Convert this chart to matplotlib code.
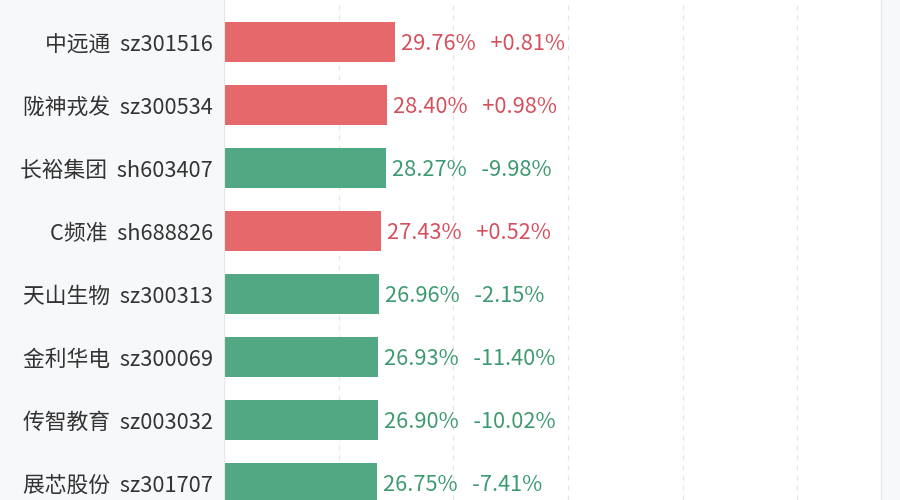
import matplotlib
matplotlib.use('Agg')
import matplotlib.pyplot as plt

plt.rcParams['font.family'] = ['Noto Sans CJK SC', 'DejaVu Sans']

''' Data read from the picture '''
names = ['中远通', '陇神戎发', '长裕集团', 'C频准', '天山生物', '金利华电', '传智教育', '展芯股份']
codes = ['sz301516', 'sz300534', 'sh603407', 'sh688826', 'sz300313', 'sz300069', 'sz003032', 'sz301707']
turnover = [29.76, 28.40, 28.27, 27.43, 26.96, 26.93, 26.90, 26.75]
change = [0.81, 0.98, -9.98, 0.52, -2.15, -11.40, -10.02, -7.41]

RED, GREEN = '#e5686a', '#52a882'
RED_T, GREEN_T = '#d5505c', '#3d9a70'

fig = plt.figure(figsize=(9, 5), dpi=100, facecolor='#f7f8fa')
ax = fig.add_axes([224/900, 0, 657/900, 1])
ax.set_facecolor('white')

ypos = list(range(len(names)))
cols = [RED if c > 0 else GREEN for c in change]
ax.barh(ypos, turnover, height=0.65, color=cols, zorder=2)

for y, v, c in zip(ypos, turnover, change):
	tc = RED_T if c > 0 else GREEN_T
	ax.annotate('%.2f%%   %+.2f%%' % (v, c), xy=(v, y), xytext=(6, -2), textcoords='offset pixels',
		va='center', ha='left', fontsize=15.7, color=tc, zorder=3)

ax.set_yticks(ypos)
ax.set_yticklabels(['%s  %s' % (n, s) for n, s in zip(names, codes)], fontsize=15.7, color='#333333')
ax.tick_params(axis='y', length=0, pad=8)
ax.set_xticks([20, 40, 60, 80, 100])
ax.tick_params(axis='x', length=0, labelbottom=False)
ax.grid(axis='x', linestyle=(0, (4, 4)), color='#e6e6e6', linewidth=0.9, zorder=0)

ax.set_xlim(0, 114.6)
ax.set_ylim(7.27, -0.667)

for s in ['top', 'bottom']:
	ax.spines[s].set_visible(False)
ax.spines['left'].set_color('#e6e6e6')
ax.spines['right'].set_color('#e6e6e6')

fig.savefig('out.png', dpi=100, facecolor=fig.get_facecolor())
